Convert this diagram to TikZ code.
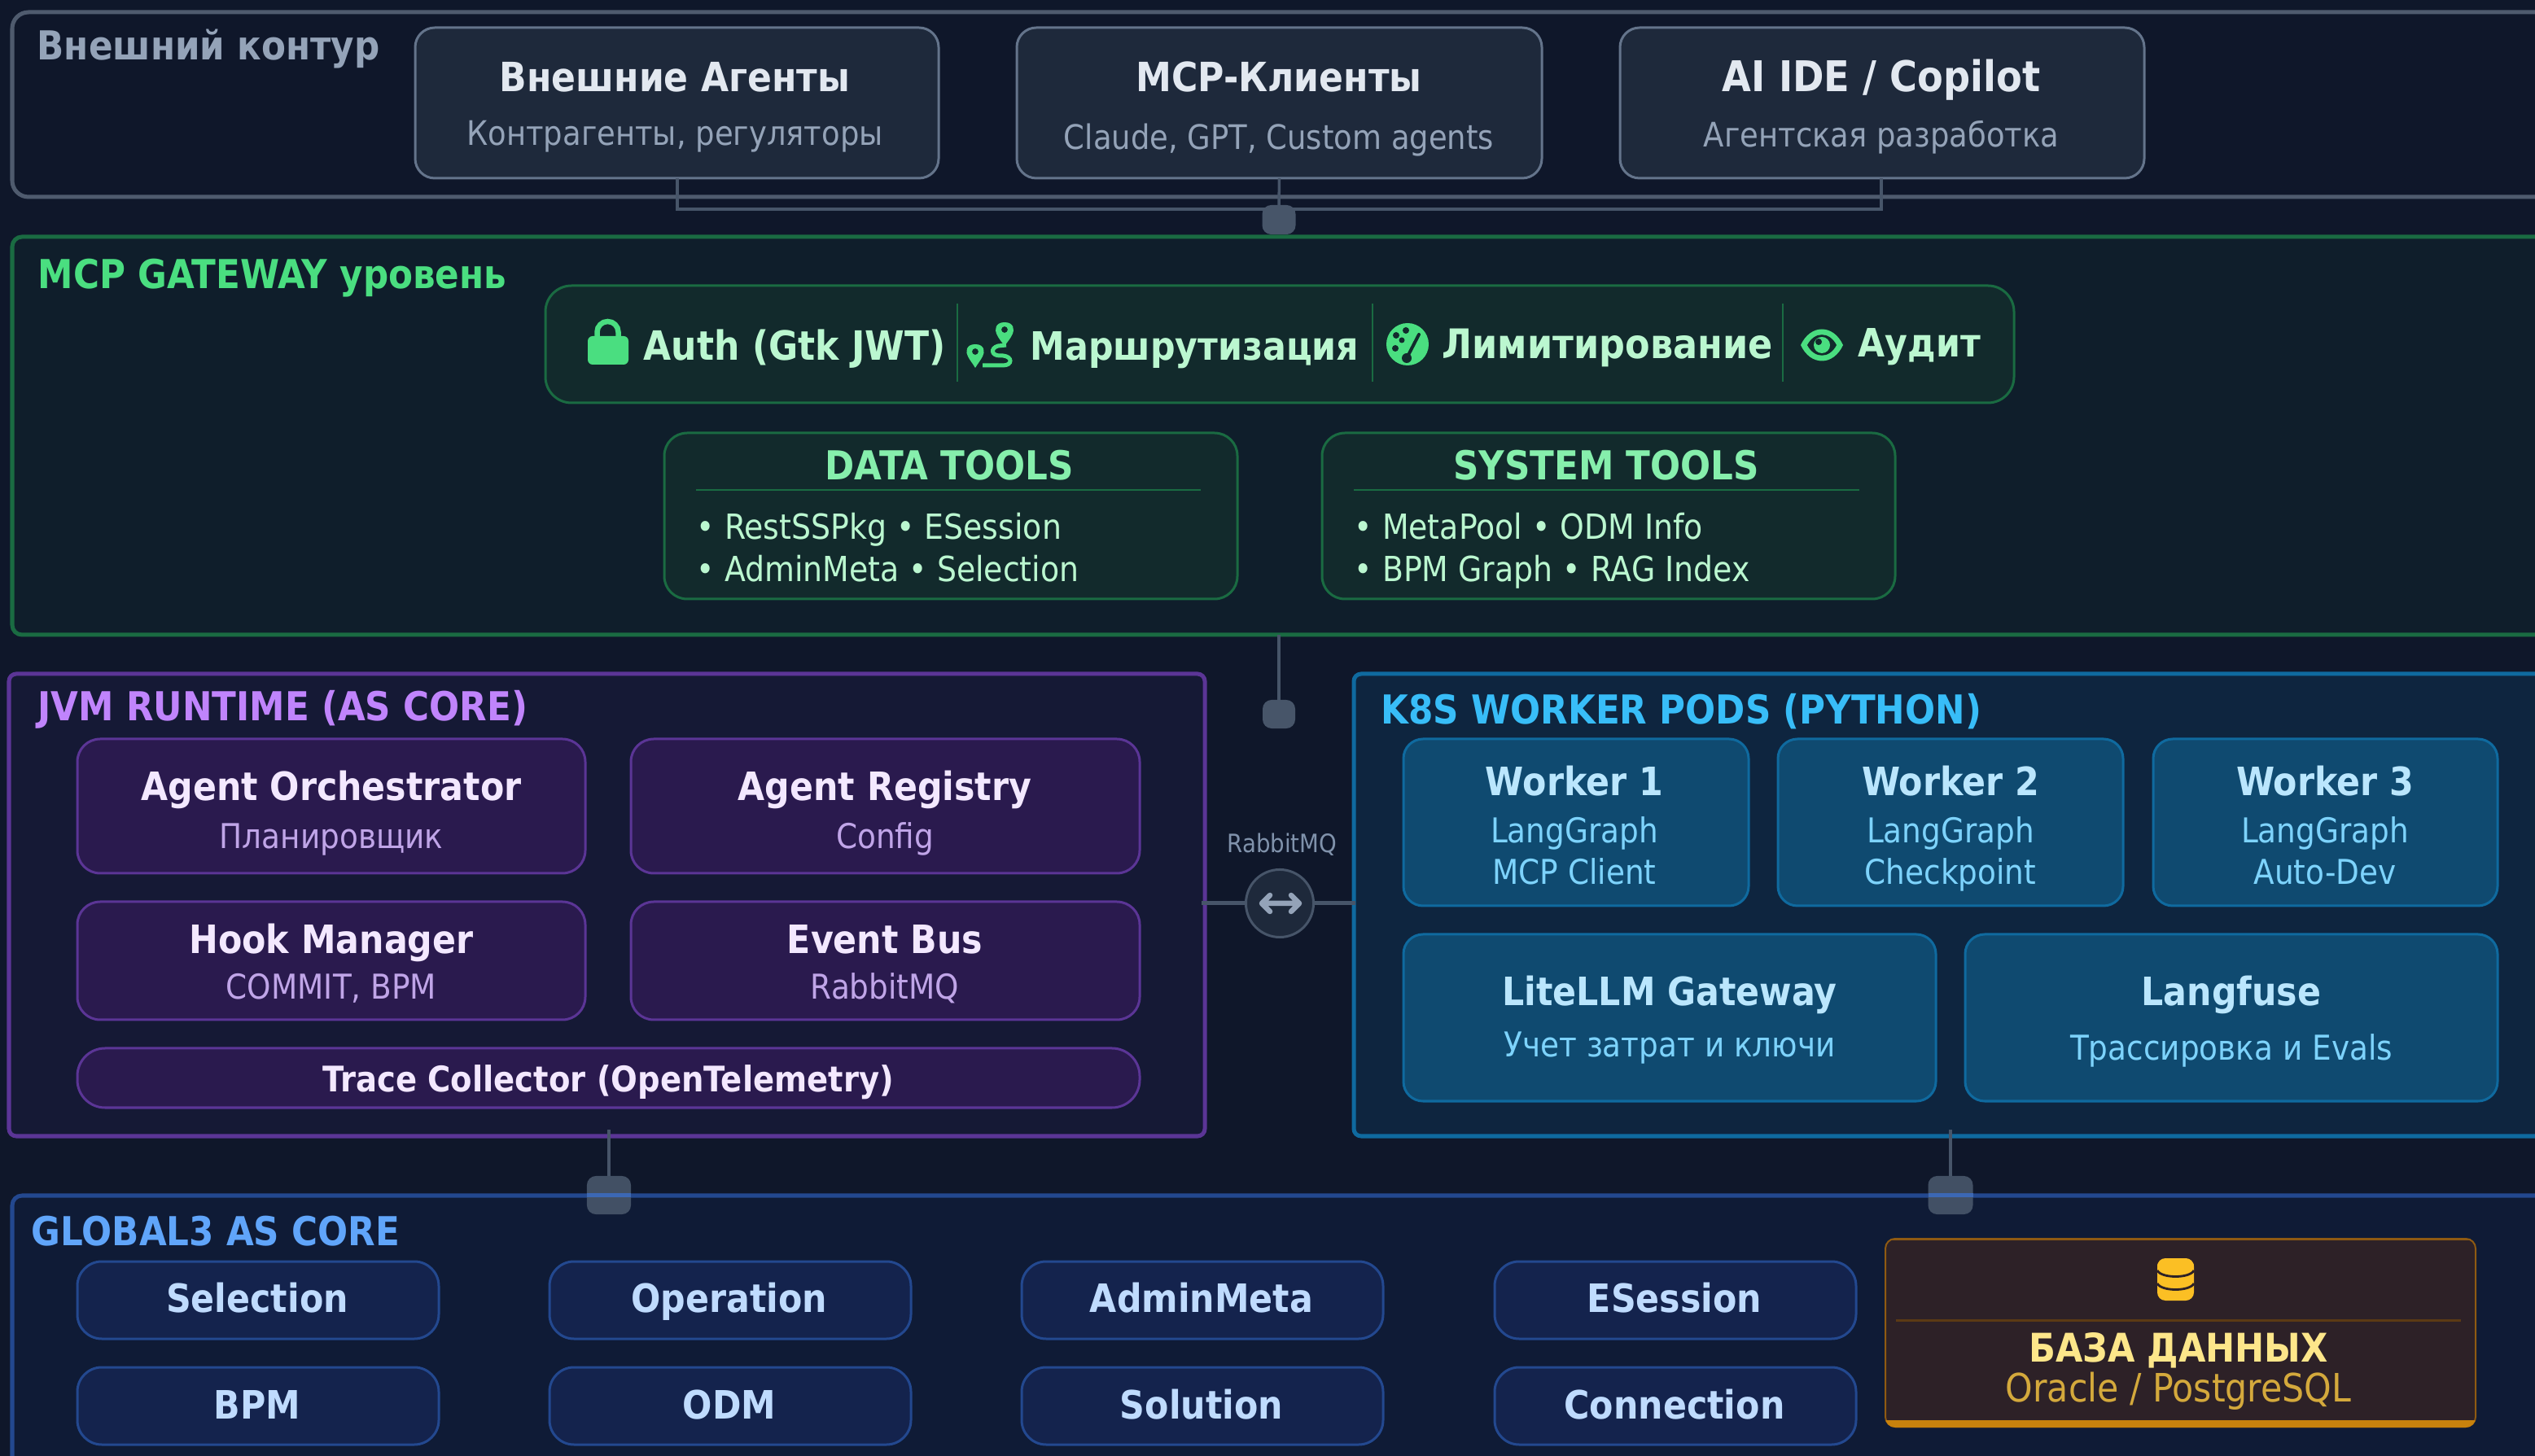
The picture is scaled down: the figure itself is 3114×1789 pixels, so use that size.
\documentclass[tikz,border=0pt]{standalone}
\usepackage{fontspec}
\setmainfont[FakeStretch=0.89]{DejaVu Sans}
\newcommand\fz[1]{\fontsize{\fpeval{#1*0.28453}}{\fpeval{#1*0.34}}\selectfont}
\newcommand\bx[6]{\node[box,#6,minimum width={(#4-#2)*0.01cm},minimum height={(#5-#3)*0.01cm}] (#1) at ({(#2+#4)/2},{(#3+#5)/2}) {};}
\newcommand\lb[5]{\node[anchor=base,inner sep=0pt,#2] (#1) at (#3,#4) {#5};}
\definecolor{bg}{HTML}{0F172A}
\definecolor{wire}{HTML}{475569}
\definecolor{mint}{HTML}{4ADE80}
\definecolor{barfill}{HTML}{122A2C}
\definecolor{grnline}{HTML}{1A6B42}
\definecolor{purline}{HTML}{5B3596}
\definecolor{bluline}{HTML}{23488F}
\definecolor{cyaline}{HTML}{0F6A9F}
\definecolor{gold}{HTML}{FBBF24}
\definecolor{dbfill}{HTML}{2D2127}
\definecolor{extline}{HTML}{4F5B6E}
\definecolor{gwfill}{HTML}{0F1E2B}
\definecolor{jvmfill}{HTML}{151935}
\definecolor{k8sfill}{HTML}{0E253F}
\definecolor{glfill}{HTML}{0F1B36}
\definecolor{slate}{HTML}{64748B}
\definecolor{slatefill}{HTML}{1E293B}
\definecolor{purfill}{HTML}{2A1A4E}
\definecolor{cyafill}{HTML}{0F4A70}
\definecolor{blufill}{HTML}{14234D}
\definecolor{dbline}{HTML}{8F5A12}
\definecolor{dbbar}{HTML}{C8820D}
\definecolor{dbrule}{HTML}{5C3A14}
\definecolor{mute}{HTML}{94A3B8}
\definecolor{pale}{HTML}{E2E8F0}
\definecolor{palegrn}{HTML}{BBF7D0}
\definecolor{midgrn}{HTML}{86EFAC}
\definecolor{palepur}{HTML}{F3E8FF}
\definecolor{midpur}{HTML}{C0A5E8}
\definecolor{grppur}{HTML}{C084FC}
\definecolor{grpcya}{HTML}{38BDF8}
\definecolor{grpblu}{HTML}{60A5FA}
\definecolor{palecya}{HTML}{BAE6FD}
\definecolor{midcya}{HTML}{7DD3FC}
\definecolor{paleblu}{HTML}{BFDBFE}
\definecolor{paleyel}{HTML}{FDE68A}
\definecolor{midyel}{HTML}{D4A93C}
\definecolor{mqtext}{HTML}{8092AB}
\definecolor{glare}{HTML}{3C68B4}
\tikzset{
  box/.style={draw,inner sep=0pt,outer sep=0pt},
  layerext/.style={draw=extline,fill=bg,line width=.05cm,rounded corners=.2cm},
  layergw/.style={draw=grnline,fill=gwfill,line width=.05cm,rounded corners=.12cm},
  layerjvm/.style={draw=purline,fill=jvmfill,line width=.05cm,rounded corners=.09cm},
  layerk8s/.style={draw=cyaline,fill=k8sfill,line width=.05cm,rounded corners=.09cm},
  layergl/.style={draw=bluline,fill=glfill,line width=.05cm,rounded corners=.12cm},
  extcard/.style={draw=slate,fill=slatefill,line width=.03cm,rounded corners=.24cm},
  grncard/.style={draw=grnline,fill=barfill,line width=.03cm,rounded corners=.28cm},
  purcard/.style={draw=purline,fill=purfill,line width=.03cm,rounded corners=.28cm},
  cyacard/.style={draw=cyaline,fill=cyafill,line width=.03cm,rounded corners=.24cm},
  blucard/.style={draw=bluline,fill=blufill,line width=.03cm,rounded corners=.3cm},
  dbcard/.style={draw=dbline,fill=dbfill,line width=.02cm,rounded corners=.12cm},
  pill/.style={box,draw=none,fill=wire,rounded corners=.11cm},
  wireline/.style={draw=wire,line width=.035cm},
  sepline/.style={draw=grnline,line width=.02cm},
  grp/.style={font=\fz{49}\bfseries,anchor=base west},
  exttitle/.style={font=\fz{49.5}\bfseries,text=pale},
  extsub/.style={font=\fz{41.5},text=mute},
  bartext/.style={font=\fz{49.5}\bfseries,text=palegrn,anchor=base west},
  tooltitle/.style={font=\fz{49}\bfseries,text=midgrn},
  toolitem/.style={font=\fz{42.5},text=palegrn,anchor=base west},
  jvmtitle/.style={font=\fz{48}\bfseries,text=palepur},
  jvmsub/.style={font=\fz{42},text=midpur},
  wkrtitle/.style={font=\fz{48}\bfseries,text=palecya},
  wkrsub/.style={font=\fz{42},text=midcya},
  chip/.style={font=\fz{48}\bfseries,text=paleblu},
}
\begin{document}
\begin{tikzpicture}[x=0.01cm,y=-0.01cm]
\path[clip] (0,0) rectangle (3114,1789);
\fill[bg] (0,0) rectangle (3114,1789);

% layers
\bx{lext}{15}{15}{3135}{242}{layerext}
\bx{lgw}{15}{291}{3135}{780}{layergw}
\bx{ljvm}{11}{828}{1480}{1396}{layerjvm}
\bx{lk8s}{1663}{828}{3135}{1396}{layerk8s}
\bx{lgl}{15}{1469}{3135}{1840}{layergl}

\lb{text}{grp,text=mute}{45}{74}{Внешний контур}
\lb{tgw}{grp,text=mint}{46}{355}{MCP GATEWAY уровень}
\lb{tjvm}{grp,text=grppur}{46}{886}{JVM RUNTIME (AS CORE)}
\lb{tk8s}{grp,text=grpcya}{1696}{890}{K8S WORKER PODS (PYTHON)}
\lb{tgl}{grp,text=grpblu}{38}{1530}{GLOBAL3 AS CORE}

% external
\bx{ea}{510}{34}{1153}{219}{extcard}
\bx{eb}{1249}{34}{1894}{219}{extcard}
\bx{ec}{1990}{34}{2634}{219}{extcard}
\lb{eat}{exttitle}{829}{113}{Внешние Агенты}
\lb{eas}{extsub}{829}{179}{Контрагенты, регуляторы}
\lb{ebt}{exttitle}{1571}{113}{MCP-Клиенты}
\lb{ebs}{extsub}{1571}{184}{Claude, GPT, Custom agents}
\lb{ect}{exttitle,font=\fz{52}\bfseries}{2311}{113}{AI IDE / Copilot}
\lb{ecs}{extsub}{2311}{181}{Агентская разработка}

% top connectors
\node[pill,minimum width=.41cm,minimum height=.36cm] (p1) at (1571,270) {};
\coordinate (busL) at (832,257);
\coordinate (busR) at (2311,257);
\coordinate (ea1) at (832,219);
\coordinate (ec1) at (2311,219);
\draw[wireline] (ea1) -- (busL) -- (busR) -- (ec1);
\draw[wireline] (eb.south) -- (p1.north);

% gateway bar
\bx{gbar}{670}{351}{2474}{495}{grncard,rounded corners=.32cm}
\coordinate (s1a) at (1176,373);\coordinate (s1b) at (1176,469);
\coordinate (s2a) at (1686,373);\coordinate (s2b) at (1686,469);
\coordinate (s3a) at (2190,373);\coordinate (s3b) at (2190,469);
\draw[sepline] (s1a)--(s1b) (s2a)--(s2b) (s3a)--(s3b);
% lock icon
\draw[mint,line width=.065cm] (733.5,418) -- (733.5,408) arc[start angle=180,end angle=360,x radius=13,y radius=13] -- (759.5,418);
\fill[mint,rounded corners=.06cm] (722,413) rectangle (772,448);
\lb{bauth}{bartext}{790}{443}{Auth (Gtk JWT)}
% route icon
\fill[mint,even odd rule] (1234,396) .. controls (1222,396) and (1222,406) .. (1224,410) .. controls (1226,415) and (1231,421) .. (1234,425) .. controls (1237,421) and (1242,415) .. (1244,410) .. controls (1246,406) and (1246,396) .. (1234,396) -- cycle (1234,405) circle[radius=4];
\fill[mint,even odd rule] (1198,423) .. controls (1186,423) and (1186,433) .. (1189,438) .. controls (1191,442) and (1195,447) .. (1198,452) .. controls (1201,447) and (1205,442) .. (1207,438) .. controls (1210,433) and (1210,423) .. (1198,423) -- cycle (1198,432) circle[radius=4];
\draw[mint,line width=.05cm] (1236,424) -- (1226,425) .. controls (1216,428) and (1218,437) .. (1228,437) -- (1232,437) .. controls (1244,438) and (1244,449) .. (1232,449) -- (1207,449);
\lb{brt}{bartext,font=\fz{48}\bfseries}{1265}{443}{Маршрутизация}
% gauge icon
\fill[mint] (1729,423) ellipse[x radius=26,y radius=26];
\fill[barfill] (1715,412) circle[radius=4] (1727,406) circle[radius=4] (1714,428) circle[radius=4] (1722,418) circle[radius=3.5] (1728,440) circle[radius=6];
\draw[barfill,line width=.04cm,line cap=round] (1728,440) -- (1743,411);
\lb{blm}{bartext,font=\fz{50}\bfseries}{1771}{441}{Лимитирование}
% eye icon
\fill[mint] (2212,424) .. controls (2224,398) and (2252,398) .. (2264,424) .. controls (2252,450) and (2224,450) .. (2212,424) -- cycle;
\fill[barfill] (2220,424) .. controls (2229,407) and (2247,407) .. (2256,424) .. controls (2247,441) and (2229,441) .. (2220,424) -- cycle;
\fill[mint] (2238,424) circle[radius=10];
\fill[barfill] (2234,420) circle[radius=4];
\lb{bau}{bartext,font=\fz{48}\bfseries}{2282}{439}{Аудит}

% tools
\bx{td}{816}{532}{1520}{736}{grncard}
\bx{ts}{1624}{532}{2328}{736}{grncard}
\lb{tdt}{tooltitle}{1166}{590}{DATA TOOLS}
\lb{tst}{tooltitle}{1973}{590}{SYSTEM TOOLS}
\coordinate (r1a) at (855,602);\coordinate (r1b) at (1475,602);
\coordinate (r2a) at (1663,602);\coordinate (r2b) at (2284,602);
\draw[sepline] (r1a)--(r1b) (r2a)--(r2b);
\lb{td1}{toolitem}{855}{663}{• RestSSPkg • ESession}
\lb{td2}{toolitem}{855}{715}{• AdminMeta • Selection}
\lb{ts1}{toolitem}{1663}{663}{• MetaPool • ODM Info}
\lb{ts2}{toolitem}{1663}{715}{• BPM Graph • RAG Index}

% center wires
\node[pill,minimum width=.40cm,minimum height=.35cm] (p2) at (1571,877.5) {};
\draw[wireline] (lgw.south -| p2) -- (p2.north);
\node[box,draw=wire,fill=slatefill,line width=.03cm,circle,minimum size=.83cm] (mq) at (1572,1110) {};
\coordinate (mqL) at (1476,1110);
\coordinate (mqR) at (1665,1110);
\draw[wire,line width=.05cm] (mqL) -- (mq.west) (mq.east) -- (mqR);
\lb{mql}{font=\fz{31},text=mqtext}{1575}{1048}{RabbitMQ}
\coordinate (ar1) at (1550,1110);\coordinate (ar2) at (1596,1110);
\draw[mute,line width=.065cm,line cap=round,line join=round] (1560,1100) -- (ar1) -- (1560,1120) (ar1) -- (ar2) (1586,1100) -- (ar2) -- (1586,1120);

% JVM
\bx{j1}{95}{908}{719}{1073}{purcard}
\bx{j2}{775}{908}{1400}{1073}{purcard}
\bx{j3}{95}{1108}{719}{1253}{purcard}
\bx{j4}{775}{1108}{1400}{1253}{purcard}
\bx{j5}{95}{1288}{1400}{1361}{purcard,rounded corners=.34cm}
\lb{j1t}{jvmtitle}{407}{984}{Agent Orchestrator}
\lb{j1s}{jvmsub}{407}{1043}{Планировщик}
\lb{j2t}{jvmtitle}{1087}{984}{Agent Registry}
\lb{j2s}{jvmsub}{1087}{1043}{Config}
\lb{j3t}{jvmtitle}{407}{1172}{Hook Manager}
\lb{j3s}{jvmsub}{407}{1228}{COMMIT, BPM}
\lb{j4t}{jvmtitle}{1087}{1172}{Event Bus}
\lb{j4s}{jvmsub}{1087}{1228}{RabbitMQ}
\lb{j5t}{jvmtitle,font=\fz{43.3}\bfseries}{747}{1341}{Trace Collector (OpenTelemetry)}

% K8S
\bx{w1}{1724}{908}{2148}{1113}{cyacard}
\bx{w2}{2184}{908}{2608}{1113}{cyacard}
\bx{w3}{2645}{908}{3068}{1113}{cyacard}
\bx{w4}{1724}{1148}{2378}{1353}{cyacard}
\bx{w5}{2414}{1148}{3068}{1353}{cyacard}
\lb{w1t}{wkrtitle}{1934}{978}{Worker 1}
\lb{w1a}{wkrsub}{1934}{1036}{LangGraph}
\lb{w1b}{wkrsub}{1934}{1087}{MCP Client}
\lb{w2t}{wkrtitle}{2396}{978}{Worker 2}
\lb{w2a}{wkrsub}{2396}{1036}{LangGraph}
\lb{w2b}{wkrsub}{2396}{1087}{Checkpoint}
\lb{w3t}{wkrtitle}{2856}{978}{Worker 3}
\lb{w3a}{wkrsub}{2856}{1036}{LangGraph}
\lb{w3b}{wkrsub}{2856}{1087}{Auto-Dev}
\lb{w4t}{wkrtitle}{2051}{1236}{LiteLLM Gateway}
\lb{w4s}{wkrsub}{2051}{1298}{Учет затрат и ключи}
\lb{w5t}{wkrtitle}{2741}{1236}{Langfuse}
\lb{w5s}{wkrsub}{2741}{1303}{Трассировка и Evals}

% lower wires
\coordinate (jt) at (748,1388);
\coordinate (kt) at (2396,1388);
\node[pill,minimum width=.54cm,minimum height=.47cm,fill opacity=.92] (p3) at (748,1468.5) {};
\node[pill,minimum width=.55cm,minimum height=.47cm,fill opacity=.92] (p4) at (2396,1468.5) {};
\draw[wireline] (jt) -- (p3.north);
\draw[wireline] (kt) -- (p4.north);
\draw[glare,line width=.05cm] (p3.west) -- (p3.east) (p4.west) -- (p4.east);

% Global3 chips
\bx{g1}{95}{1550}{539}{1645}{blucard}
\bx{g2}{675}{1550}{1119}{1645}{blucard}
\bx{g3}{1255}{1550}{1699}{1645}{blucard}
\bx{g4}{1836}{1550}{2280}{1645}{blucard}
\bx{g5}{95}{1680}{539}{1775}{blucard}
\bx{g6}{675}{1680}{1119}{1775}{blucard}
\bx{g7}{1255}{1680}{1699}{1775}{blucard}
\bx{g8}{1836}{1680}{2280}{1775}{blucard}
\lb{g1t}{chip}{316}{1612}{Selection}
\lb{g2t}{chip}{896}{1612}{Operation}
\lb{g3t}{chip}{1476}{1612}{AdminMeta}
\lb{g4t}{chip}{2057}{1612}{ESession}
\lb{g5t}{chip}{316}{1743}{BPM}
\lb{g6t}{chip}{896}{1743}{ODM}
\lb{g7t}{chip}{1476}{1743}{Solution}
\lb{g8t}{chip}{2057}{1743}{Connection}

% database
\bx{db}{2316}{1522}{3041}{1753}{dbcard}
\begin{scope}
\clip (2300,1745) rectangle (3060,1760);
\fill[dbbar,rounded corners=.12cm] (2316,1600) rectangle (3041,1754);
\end{scope}
\fill[dbline] (2322,1522) rectangle (3035,1524);
\fill[gold,rounded corners=.1cm] (2650,1546) rectangle (2695,1598);
\fill[gold] (2672.5,1555) ellipse[x radius=22.5,y radius=9];
\draw[dbfill,line width=.028cm] (2650,1561) .. controls (2655,1571) and (2690,1571) .. (2695,1561);
\draw[dbfill,line width=.028cm] (2650,1577) .. controls (2655,1587) and (2690,1587) .. (2695,1577);
\coordinate (dba) at (2329,1622);\coordinate (dbb) at (3023,1622);
\draw[dbrule,line width=.03cm] (dba) -- (dbb);
\lb{dbt}{font=\fz{48.5}\bfseries,text=paleyel}{2676}{1673}{БАЗА ДАННЫХ}
\lb{dbs}{font=\fz{48},text=midyel}{2676}{1722}{Oracle / PostgreSQL}
\end{tikzpicture}
\end{document}
